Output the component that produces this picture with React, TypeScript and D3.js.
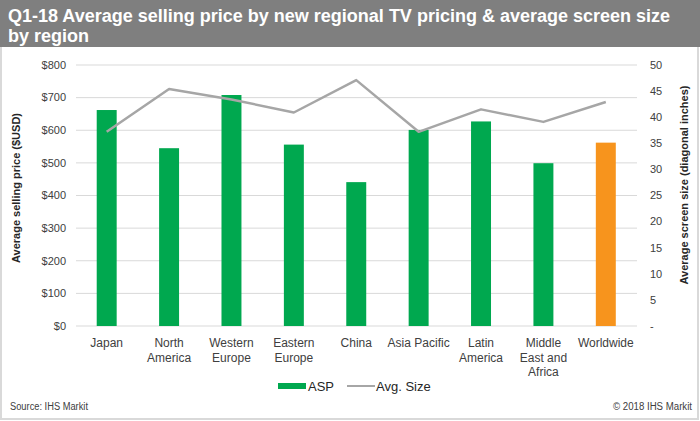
import React, { useEffect, useRef } from "react";
import * as d3 from "d3";

const categories: string[][] = [
  ["Japan"],
  ["North", "America"],
  ["Western", "Europe"],
  ["Eastern", "Europe"],
  ["China"],
  ["Asia Pacific"],
  ["Latin", "America"],
  ["Middle", "East and", "Africa"],
  ["Worldwide"],
];
const aspValues = [662, 545, 708, 556, 441, 601, 627, 499, 562];
const sizeValues = [37.2, 45.4, 43.4, 40.9, 47.1, 37.2, 41.5, 39.1, 42.9];
const leftTicks = [0, 100, 200, 300, 400, 500, 600, 700, 800];
const rightTicks = [0, 5, 10, 15, 20, 25, 30, 35, 40, 45, 50];
const titleLines = [
  "Q1-18 Average selling price by new regional TV pricing & average screen size",
  "by region",
];

const W = 700;
const H = 421;
const SANS = "'Liberation Sans', Arial, sans-serif";

export default function App() {
  const titleRef = useRef<SVGGElement>(null);

  useEffect(() => {
    const g = titleRef.current;
    if (!g) return;
    const first = g.querySelector("text") as SVGTextElement | null;
    if (!first) return;
    const len = first.getComputedTextLength();
    if (len > 0) {
      const s = 662 / len;
      d3.select(g).attr("transform", `translate(8,0) scale(${s},1)`);
    }
  }, []);

  const x = d3
    .scaleBand<number>()
    .domain(categories.map((_, i) => i))
    .range([75.5, 637])
    .paddingInner(0.68)
    .paddingOuter(0.34);
  const yL = d3.scaleLinear().domain([0, 800]).range([326, 65]);
  const yR = d3.scaleLinear().domain([0, 50]).range([326, 65]);
  const cx = (i: number) => (x(i) as number) + x.bandwidth() / 2;
  const line = d3
    .line<number>()
    .x((_, i) => cx(i))
    .y((d) => yR(d));

  return (
    <svg width={W} height={H} style={{ position: "absolute", left: 0, top: 0 }}>
      <rect x={0} y={0} width={W} height={H} fill="#ffffff" />
      <rect x={1} y={1} width={W - 3} height={H - 3} fill="none" stroke="#d9d9d9" strokeWidth={2} />
      <rect x={0} y={0} width={W} height={47} fill="#7f7f7f" />
      <g ref={titleRef} transform="translate(8,0) scale(0.86,1)">
        {titleLines.map((t, i) => (
          <text key={i} x={0} y={22 + i * 20} fill="#ffffff" fontFamily={SANS} fontWeight="bold" fontSize={19}>
            {t}
          </text>
        ))}
      </g>

      {leftTicks.map((t) => (
        <g key={"g" + t}>
          <line x1={76} x2={637} y1={yL(t)} y2={yL(t)} stroke="#d9d9d9" strokeWidth={1} />
          <text x={66} y={yL(t)} dy="0.35em" textAnchor="end" fontFamily={SANS} fontSize={11} fill="#404040">
            ${t}
          </text>
        </g>
      ))}
      {rightTicks.map((t) => (
        <text key={"r" + t} x={650} y={yR(t)} dy="0.35em" textAnchor="start" fontFamily={SANS} fontSize={11} fill="#404040">
          {t === 0 ? "-" : t}
        </text>
      ))}

      {aspValues.map((v, i) => (
        <rect
          key={"b" + i}
          x={x(i)}
          y={yL(v)}
          width={x.bandwidth()}
          height={yL(0) - yL(v)}
          fill={i === aspValues.length - 1 ? "#f7941d" : "#00a84f"}
        />
      ))}
      <path d={line(sizeValues) || ""} fill="none" stroke="#a6a6a6" strokeWidth={2.5} strokeLinejoin="round" />

      {categories.map((lines, i) => (
        <text key={"c" + i} x={cx(i)} y={347} textAnchor="middle" fontFamily={SANS} fontSize={12} fill="#404040">
          {lines.map((l, j) => (
            <tspan key={j} x={cx(i)} dy={j === 0 ? 0 : 14.5}>
              {l}
            </tspan>
          ))}
        </text>
      ))}

      <text
        transform={`translate(20,188) rotate(-90)`}
        textAnchor="middle"
        fontFamily={SANS}
        fontWeight="bold"
        fontSize={11}
        fill="#262626"
      >
        Average selling price ($USD)
      </text>
      <text
        transform={`translate(688,185) rotate(-90)`}
        textAnchor="middle"
        fontFamily={SANS}
        fontWeight="bold"
        fontSize={11}
        fill="#262626"
      >
        Average screen size (diagonal inches)
      </text>

      <rect x={278} y={383} width={28} height={6} fill="#00a84f" />
      <text x={308} y={386} dy="0.35em" fontFamily={SANS} fontSize={13} fill="#262626">
        ASP
      </text>
      <line x1={347} x2={375} y1={386} y2={386} stroke="#a6a6a6" strokeWidth={2} />
      <text x={376} y={386} dy="0.35em" fontFamily={SANS} fontSize={13} fill="#262626">
        Avg. Size
      </text>

      <text x={10} y={410} fontFamily={SANS} fontSize={10} fill="#404040" textLength={78} lengthAdjust="spacingAndGlyphs">
        Source: IHS Markit
      </text>
      <text
        x={613}
        y={410}
        fontFamily={SANS}
        fontSize={10}
        fill="#404040"
        textLength={79}
        lengthAdjust="spacingAndGlyphs"
      >
        © 2018 IHS Markit
      </text>
    </svg>
  );
}
